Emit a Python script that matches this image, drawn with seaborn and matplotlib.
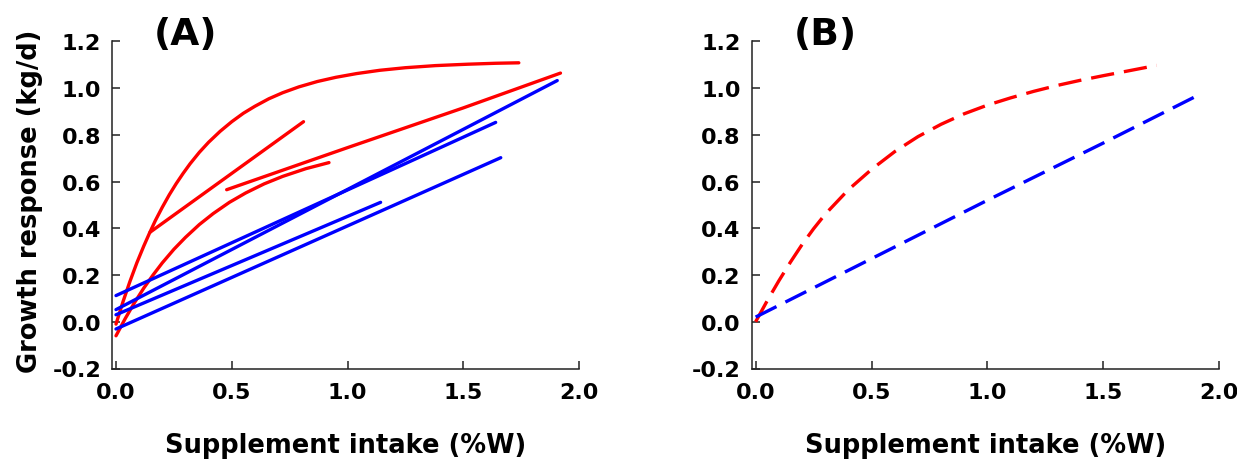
import matplotlib
matplotlib.use("Agg")
import matplotlib.pyplot as plt
import pandas as pd
import seaborn as sns

# ---- Panel A: individual response curves ----
red_a1_x = [0.00, 0.03, 0.06, 0.09, 0.12, 0.145, 0.17, 0.20, 0.23, 0.26, 0.29, 0.32, 0.36,
            0.40, 0.45, 0.50, 0.55, 0.60, 0.66, 0.72, 0.79, 0.87, 0.95, 1.04, 1.14, 1.25,
            1.38, 1.52, 1.64, 1.74]
red_a1_y = [-0.01, 0.085, 0.172, 0.252, 0.324, 0.38, 0.433, 0.49, 0.543, 0.591, 0.635, 0.676,
            0.725, 0.768, 0.815, 0.856, 0.892, 0.922, 0.954, 0.98, 1.005, 1.028, 1.046, 1.062,
            1.076, 1.087, 1.096, 1.102, 1.106, 1.108]

red_a2_x = [0.147, 0.81]
red_a2_y = [0.383, 0.856]

red_a3_x = [0.00, 0.04, 0.08, 0.12, 0.16, 0.20, 0.25, 0.30, 0.36, 0.42, 0.49, 0.56, 0.64,
            0.72, 0.82, 0.92]
red_a3_y = [-0.06, 0.014, 0.082, 0.144, 0.20, 0.252, 0.31, 0.361, 0.416, 0.463, 0.511, 0.551,
            0.59, 0.622, 0.655, 0.681]

red_a4_x = [0.478, 1.00, 1.50, 1.92]
red_a4_y = [0.565, 0.745, 0.915, 1.064]

blue_a1_x = [0.00, 1.64]
blue_a1_y = [0.112, 0.853]
blue_a2_x = [0.00, 1.906]
blue_a2_y = [0.052, 1.032]
blue_a3_x = [0.00, 1.143]
blue_a3_y = [0.030, 0.511]
blue_a4_x = [0.00, 1.662]
blue_a4_y = [-0.031, 0.702]

# ---- Panel B: summary response curves ----
red_b_x = [0.0, 0.05, 0.1, 0.15, 0.2, 0.25, 0.3, 0.4, 0.5, 0.6, 0.7, 0.8, 0.9, 1.0,
           1.1, 1.2, 1.3, 1.4, 1.5, 1.6, 1.73]
red_b_y = [0.0, 0.09, 0.175, 0.255, 0.33, 0.398, 0.46, 0.565, 0.652, 0.728, 0.792, 0.845,
           0.89, 0.927, 0.958, 0.986, 1.011, 1.033, 1.053, 1.072, 1.097]

blue_b_x = [0.0, 0.5, 1.0, 1.5, 1.9]
blue_b_y = [0.02, 0.27, 0.52, 0.765, 0.965]

y_ticks = [-0.2, 0.0, 0.2, 0.4, 0.6, 0.8, 1.0, 1.2]
x_ticks = [0.0, 0.5, 1.0, 1.5, 2.0]
x_label = "Supplement intake (%W)"
y_label = "Growth response (kg/d)"
panel_labels = ["(A)", "(B)"]

RED = "#ff0000"
BLUE = "#0000ff"

sns.set_theme(style="white")
plt.rcParams.update({
    "font.family": ["DejaVu Sans"],
    "font.weight": "bold",
    "axes.unicode_minus": False,
    "text.color": "black",
    "axes.labelcolor": "black",
    "xtick.color": "black",
    "ytick.color": "black",
    "xtick.direction": "in",
    "ytick.direction": "in",
})


def frame(series):
    rows = []
    for name, xs, ys, col in series:
        for x, y in zip(xs, ys):
            rows.append({"curve": name, "x": x, "y": y, "colour": col})
    return pd.DataFrame(rows)


panel_a = frame([
    ("r1", red_a1_x, red_a1_y, "red"),
    ("r2", red_a2_x, red_a2_y, "red"),
    ("r3", red_a3_x, red_a3_y, "red"),
    ("r4", red_a4_x, red_a4_y, "red"),
    ("b1", blue_a1_x, blue_a1_y, "blue"),
    ("b2", blue_a2_x, blue_a2_y, "blue"),
    ("b3", blue_a3_x, blue_a3_y, "blue"),
    ("b4", blue_a4_x, blue_a4_y, "blue"),
])
panel_b = frame([
    ("rb", red_b_x, red_b_y, "red"),
    ("bb", blue_b_x, blue_b_y, "blue"),
])

fig = plt.figure(figsize=(12.37, 4.6), dpi=100)
W, H = 1237.0, 460.0
bottom_px, top_px = 369.5, 42.3
axA = fig.add_axes([112.3 / W, 1 - bottom_px / H, (579.0 - 112.3) / W, (bottom_px - top_px) / H])
axB = fig.add_axes([751.7 / W, 1 - bottom_px / H, (1219.3 - 751.7) / W, (bottom_px - top_px) / H])

palette = {"red": RED, "blue": BLUE}

sns.lineplot(data=panel_a, x="x", y="y", hue="colour", units="curve", estimator=None,
             sort=False, palette=palette, linewidth=2.4, legend=False, ax=axA)

for name, sub in panel_b.groupby("curve", sort=False):
    sns.lineplot(data=sub, x="x", y="y", color=palette[sub["colour"].iloc[0]],
                 estimator=None, sort=False, linewidth=2.4, legend=False, ax=axB)
for line in axB.get_lines():
    line.set_dashes((7.0, 3.0))

for ax, lab, xl in [(axA, panel_labels[0], -0.016), (axB, panel_labels[1], -0.017)]:
    ax.set_xlim(xl, 2.0)
    ax.set_ylim(-0.2, 1.2)
    ax.set_xticks(x_ticks)
    ax.set_yticks(y_ticks)
    ax.set_xticklabels([f"{v:.1f}" for v in x_ticks])
    ax.set_yticklabels([f"{v:.1f}" for v in y_ticks])
    for side in ["top", "right"]:
        ax.spines[side].set_visible(False)
    for side in ["left", "bottom"]:
        ax.spines[side].set_color("#222222")
        ax.spines[side].set_linewidth(1.1)
    ax.tick_params(axis="both", which="major", direction="in", length=5.8, width=1.1,
                   color="#222222", labelsize=16, labelcolor="black")
    ax.tick_params(axis="y", pad=8, left=True)
    ax.tick_params(axis="x", pad=10, bottom=True)
    for t in ax.get_xticklabels() + ax.get_yticklabels():
        t.set_fontweight("bold")
    ax.set_xlabel(x_label, fontsize=18.5, fontweight="bold", va="baseline", color="black")
    ax.xaxis.set_label_coords(0.5, -0.255)
    ax.set_ylabel("")
    ax.text(0.30, 1.232, lab, fontsize=27, fontweight="bold", ha="center", va="center",
            color="black", clip_on=False)
    ax.grid(False)

axA.set_ylabel(y_label, fontsize=18.5, fontweight="bold", va="center", color="black")
axA.yaxis.set_label_coords(-0.176, 0.515)

fig.savefig("out.png", dpi=100)
